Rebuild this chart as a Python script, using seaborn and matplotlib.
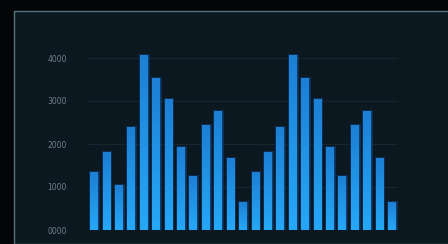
import numpy as np
import pandas as pd
import matplotlib
matplotlib.use("Agg")
import matplotlib.pyplot as plt
import matplotlib.patheffects as pe
from matplotlib.patches import Rectangle
import seaborn as sns

# bar values (25 bars)
categories = [f"b{i:02d}" for i in range(1, 26)]
values = [1350, 1810, 1050, 2400, 4070, 3530, 3050, 1930, 1260, 2440, 2770, 1670,
          650, 1350, 1810, 2400, 4070, 3530, 3050, 1930, 1260, 2440, 2770, 1670, 650]
y_ticks = [0, 1000, 2000, 3000, 4000]
y_labels = ["0000", "1000", "2000", "3000", "4000"]

df = pd.DataFrame({"cat": categories, "value": values})

sns.set_style("dark")
fig = plt.figure(figsize=(4.48, 2.44), dpi=100)
fig.patch.set_facecolor("#030507")

# dark panel with thin light border, drawn behind the axes
panel = Rectangle((14 / 448, 0), 1.0, 1 - 11 / 244, transform=fig.transFigure,
                  facecolor="#0b1820", edgecolor="#54747a", linewidth=1.0, zorder=-10)
fig.patches.append(panel)

ax = fig.add_axes([87.8 / 448, 1 - 230 / 244, 310.4 / 448, (230 - 49.4) / 244])
ax.set_facecolor("none")
ax.patch.set_alpha(0)

sns.barplot(data=df, x="cat", y="value", color="#2196f0", width=0.62,
            saturation=1, linewidth=0, ax=ax, zorder=3)

# vertical gradient inside each bar + soft glow
grad = np.linspace(0, 1, 256).reshape(-1, 1)
cmap = matplotlib.colors.LinearSegmentedColormap.from_list("g", ["#26a8f8", "#1c7fd4"])
for bar in ax.patches:
    bar.set_edgecolor("none")
    bar.set_path_effects([pe.Stroke(linewidth=2.2, foreground="#0d3d76", alpha=0.6), pe.Normal()])
    x0 = bar.get_x()
    w, h = bar.get_width(), bar.get_height()
    im = ax.imshow(grad, extent=[x0, x0 + w, 0, h], origin="lower", cmap=cmap,
                   aspect="auto", zorder=4)
    im.set_clip_path(bar)

ax.set_xlim(-0.5, len(categories) - 0.5)
ax.set_ylim(0, 4200)
ax.set_yticks(y_ticks)
ax.set_yticklabels(y_labels, fontsize=5.5, color="#6f7f8c")
ax.set_xticks([])
ax.set_xlabel("")
ax.set_ylabel("")
ax.tick_params(axis="y", length=0, pad=15)
ax.grid(axis="y", color="#18272f", linewidth=0.8, zorder=0)
for s in ax.spines.values():
    s.set_visible(False)

fig.savefig("out.png", dpi=100, facecolor=fig.get_facecolor())
